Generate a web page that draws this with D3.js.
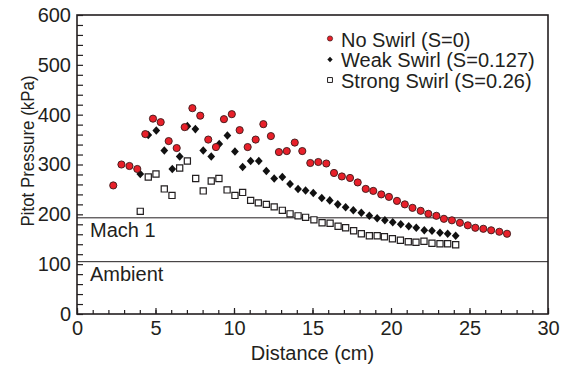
<!DOCTYPE html>
<html>
<head>
<meta charset="utf-8">
<script src="https://cdn.jsdelivr.net/npm/d3@7"></script>
<style>
body { margin: 0; background: white; }
text { font-family: "Liberation Sans", Arial, sans-serif; }
</style>
</head>
<body>
<script>
// Pitot pressure vs distance, three swirl levels
var noSwirlX = [2.31, 2.83, 3.34, 3.84, 4.35, 4.84, 5.33, 5.84, 6.35, 6.86, 7.35, 7.85, 8.36, 8.85, 9.36, 9.86, 10.36, 10.87, 11.38, 11.87, 12.35, 12.86, 13.36, 13.87, 14.35, 14.86, 15.37, 15.88, 16.37, 16.87, 17.39, 17.88, 18.39, 18.87, 19.38, 19.87, 20.38, 20.88, 21.37, 21.89, 22.38, 22.89, 23.37, 23.88, 24.39, 24.89, 25.37, 25.88, 26.38, 26.90, 27.39]
var noSwirlP = [258, 300, 297, 291, 361, 392, 385, 347, 333, 375, 413, 398, 350, 335, 391, 401, 369, 335, 350, 381, 357, 325, 327, 344, 327, 303, 305, 302, 283, 276, 273, 264, 251, 247, 240, 235, 227, 220, 213, 207, 201, 197, 191, 188, 183, 178, 173, 171, 168, 165, 161]

var weakX = [4.03, 4.54, 5.05, 5.56, 6.07, 6.54, 7.03, 7.54, 8.04, 8.55, 9.06, 9.58, 10.06, 10.55, 11.06, 11.58, 12.06, 12.56, 13.08, 13.57, 14.08, 14.56, 15.05, 15.59, 16.10, 16.61, 17.11, 17.60, 18.11, 18.62, 19.12, 19.61, 20.11, 20.62, 21.13, 21.61, 22.12, 22.61, 23.12, 23.61, 24.12]
var weakP = [281, 359, 368, 328, 291, 316, 377, 371, 328, 316, 341, 358, 326, 295, 307, 307, 287, 272, 275, 261, 251, 248, 243, 233, 228, 220, 214, 208, 203, 197, 192, 188, 184, 180, 176, 173, 168, 167, 163, 161, 157]

var strongX = [4.03, 4.54, 5.03, 5.56, 6.05, 6.54, 7.03, 7.56, 8.04, 8.55, 9.04, 9.56, 10.06, 10.55, 11.06, 11.55, 12.06, 12.56, 13.08, 13.57, 14.08, 14.56, 15.09, 15.61, 16.12, 16.63, 17.11, 17.62, 18.11, 18.62, 19.12, 19.58, 20.09, 20.60, 21.10, 21.59, 22.10, 22.61, 23.12, 23.61, 24.12]
var strongP = [206, 275, 281, 251, 238, 293, 307, 272, 247, 267, 272, 249, 238, 244, 228, 223, 220, 215, 208, 201, 197, 194, 189, 183, 182, 176, 173, 167, 161, 157, 157, 155, 151, 148, 145, 144, 146, 142, 141, 141, 139]

var legendLabels = ["No Swirl (S=0)", "Weak Swirl (S=0.127)", "Strong Swirl (S=0.26)"]
var refValues = [193, 105]
var refLabels = ["Mach 1", "Ambient"]

var ink = "#231f20"
var red = "#e8202a"

var svg = d3.select("body").append("svg")
	.attr("width", 566).attr("height", 366)

var x = d3.scaleLinear().domain([0, 30]).range([77, 548])
var y = d3.scaleLinear().domain([0, 600]).range([314, 15])

function zip(xs, ys) {
	var out = []
	for (var i = 0; i < xs.length; i++) {
		out.push({x: xs[i], p: ys[i]})
	}
	return out
}

// axes, ticks point inward
function styleAxis(g) {
	g.select(".domain").remove()
	g.attr("font-size", 20).attr("font-family", "Liberation Sans, Arial, sans-serif").attr("color", ink)
	g.selectAll("line").attr("stroke-width", 1.2)
}

var yAxis = d3.axisLeft(y).tickValues(d3.range(0, 601, 20))
	.tickSizeInner(-6).tickSizeOuter(0).tickPadding(6)
	.tickFormat(function(d) { return d % 100 == 0 ? d : "" })
svg.append("g").attr("transform", "translate(" + x(0) + ",0)").call(yAxis).call(styleAxis)

var xMinor = d3.axisBottom(x).tickValues(d3.range(0, 31, 1))
	.tickSizeInner(-4).tickSizeOuter(0).tickFormat("")
svg.append("g").attr("transform", "translate(0," + y(0) + ")").call(xMinor).call(styleAxis)

var xMajor = d3.axisBottom(x).tickValues(d3.range(0, 31, 5))
	.tickSizeInner(-6).tickSizeOuter(0).tickPadding(7)
svg.append("g").attr("transform", "translate(0," + y(0) + ")").call(xMajor).call(styleAxis)

// frame
svg.append("rect")
	.attr("x", x(0)).attr("y", y(600))
	.attr("width", x(30) - x(0)).attr("height", y(0) - y(600))
	.attr("fill", "none").attr("stroke", ink).attr("stroke-width", 1.6)

// reference lines
for (var i = 0; i < refValues.length; i++) {
	svg.append("line")
		.attr("x1", x(0)).attr("x2", x(30))
		.attr("y1", y(refValues[i])).attr("y2", y(refValues[i]))
		.attr("stroke", ink).attr("stroke-width", 1)
	svg.append("text").text(refLabels[i])
		.attr("x", x(0) + 13).attr("y", y(refValues[i]) + 19)
		.attr("font-size", 20).attr("fill", ink)
}

// axis titles
svg.append("text").text("Distance (cm)")
	.attr("x", (x(0) + x(30)) / 2).attr("y", 360)
	.attr("text-anchor", "middle").attr("font-size", 20).attr("fill", ink)

svg.append("text").text("Pitot Pressure (kPa)")
	.attr("transform", "translate(34,151) rotate(-90)")
	.attr("text-anchor", "middle").attr("font-size", 19).attr("fill", ink)
	.attr("textLength", 151).attr("lengthAdjust", "spacingAndGlyphs")

// markers
var squareSym = d3.symbol().type(d3.symbolSquare)
var plot = svg.append("g")

plot.selectAll(".strong").data(zip(strongX, strongP)).enter().append("path")
	.attr("class", "strong")
	.attr("d", squareSym.size(38)())
	.attr("transform", function(d) { return "translate(" + x(d.x) + "," + y(d.p) + ")" })
	.attr("fill", "white").attr("stroke", ink).attr("stroke-width", 1.2)

plot.selectAll(".weak").data(zip(weakX, weakP)).enter().append("path")
	.attr("class", "weak")
	.attr("d", squareSym.size(30)())
	.attr("transform", function(d) { return "translate(" + x(d.x) + "," + y(d.p) + ") scale(1,1.1) rotate(45)" })
	.attr("fill", "#111")

plot.selectAll(".none").data(zip(noSwirlX, noSwirlP)).enter().append("circle")
	.attr("class", "none")
	.attr("cx", function(d) { return x(d.x) })
	.attr("cy", function(d) { return y(d.p) })
	.attr("r", 3.6)
	.attr("fill", red).attr("stroke", "#3a1a1a").attr("stroke-width", 0.9)

// legend
var legend = svg.append("g")
var legendY = [38.5, 59.5, 80]
legend.append("circle").attr("cx", 330).attr("cy", legendY[0]).attr("r", 2.6)
	.attr("fill", red).attr("stroke", "#3a1a1a").attr("stroke-width", 0.7)
legend.append("path").attr("d", squareSym.size(14)())
	.attr("transform", "translate(330," + legendY[1] + ") rotate(45)").attr("fill", "#111")
legend.append("path").attr("d", squareSym.size(24)())
	.attr("transform", "translate(330," + legendY[2] + ")")
	.attr("fill", "white").attr("stroke", ink).attr("stroke-width", 1)

var legendBase = [46.5, 67, 87.5]
for (var i = 0; i < legendLabels.length; i++) {
	legend.append("text").text(legendLabels[i])
		.attr("x", 341).attr("y", legendBase[i])
		.attr("font-size", 20).attr("fill", ink)
}
</script>
</body>
</html>
